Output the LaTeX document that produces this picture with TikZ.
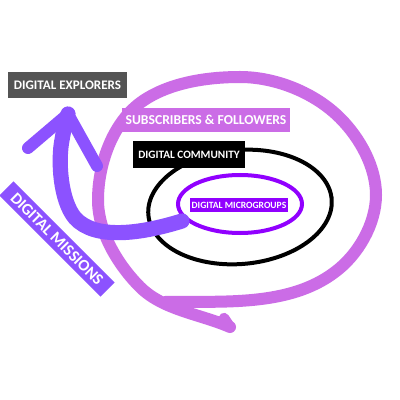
\documentclass[tikz,border=0pt]{standalone}
\usepackage{fontspec}
\usepackage{tikz}
\usetikzlibrary{calc}
\newfontfamily\tagfont{Carlito}
\definecolor{LoopPink}{RGB}{203,108,230}
\definecolor{ArrowViolet}{RGB}{140,82,255}
\definecolor{GroupViolet}{RGB}{145,0,255}
\definecolor{TagGray}{RGB}{84,84,84}
\tikzset{
  tag/.style={text=white,inner sep=0pt,align=center},
  tagsize/.style={font=\tagfont\bfseries\fontsize{#1}{#1}\selectfont},
  loop/.style={draw=LoopPink,line width=0.3cm,line cap=round,line join=round},
  ring/.style={draw=black,line width=0.1cm},
  shaft/.style={draw=ArrowViolet,line width=0.38cm,line cap=round},
  barb/.style={draw=ArrowViolet,line width=0.3cm,line cap=round,line join=round},
}

\begin{document}
\begin{tikzpicture}[x=0.025cm,y=-0.025cm]
  \useasboundingbox[fill=white] (0,0) rectangle (400,400);
  % outer loop with its tail
  \coordinate (tail) at (230,327);
  \draw[loop] (165,302) .. controls (223,301) and (289,307) .. (335,272)
    .. controls (358,255) and (376,224) .. (376,195)
    .. controls (376,167) and (360,138) .. (340,118)
    .. controls (315,93) and (276,77) .. (240,77)
    .. controls (206,77) and (167,83) .. (140,103)
    .. controls (112,124) and (98,165) .. (98,200)
    .. controls (98,232) and (118,265) .. (140,287)
    .. controls (163,310) and (200,314) .. (tail);
  \draw[loop,line width=0.26cm] (tail) -- (224,318);
  % community ring
  \draw[ring] plot[domain=0:360,samples=72,smooth cycle]
    ({240+92*cos(\x)*cos(-5)-57*sin(\x)*sin(-5)},
     {207+92*cos(\x)*sin(-5)+57*sin(\x)*cos(-5)});
  % microgroups ring
  \draw[draw=GroupViolet,line width=0.1cm] (240,204) ellipse [x radius=62,y radius=29];
  % missions arrow
  \coordinate (start) at (182,221);
  \coordinate (tip) at (68,114);
  \draw[shaft] (start) .. controls (140,234) and (95,240) .. (75,218)
    .. controls (60,200) and (58,160) .. (62,140)
    .. controls (64,128) and (66,120) .. (tip);
  \draw[barb] (28,148) -- (tip) -- (97,166);
  % labels
  \node[tag,tagsize=9.3,fill=TagGray,minimum width=2.975cm,minimum height=0.65cm]
    (explorers) at (67.5,85) {DIGITAL EXPLORERS};
  \node[tag,tagsize=9.7,fill=LoopPink,minimum width=4.2cm,minimum height=0.6cm]
    (followers) at (206,120) {SUBSCRIBERS \& FOLLOWERS};
  \node[tag,tagsize=8,fill=black,minimum width=2.8cm,minimum height=0.675cm]
    (community) at (189,154.5) {DIGITAL COMMUNITY};
  \node[tag,tagsize=6.8,fill=GroupViolet,minimum width=2.45cm,minimum height=0.35cm]
    (microgroups) at (239,205) {DIGITAL MICROGROUPS};
  \node[tag,tagsize=11.5,fill=ArrowViolet,rotate=-45,minimum width=3.575cm,
    minimum height=0.5cm] (missions) at (57,239) {DIGITAL MISSIONS};
\end{tikzpicture}
\end{document}
